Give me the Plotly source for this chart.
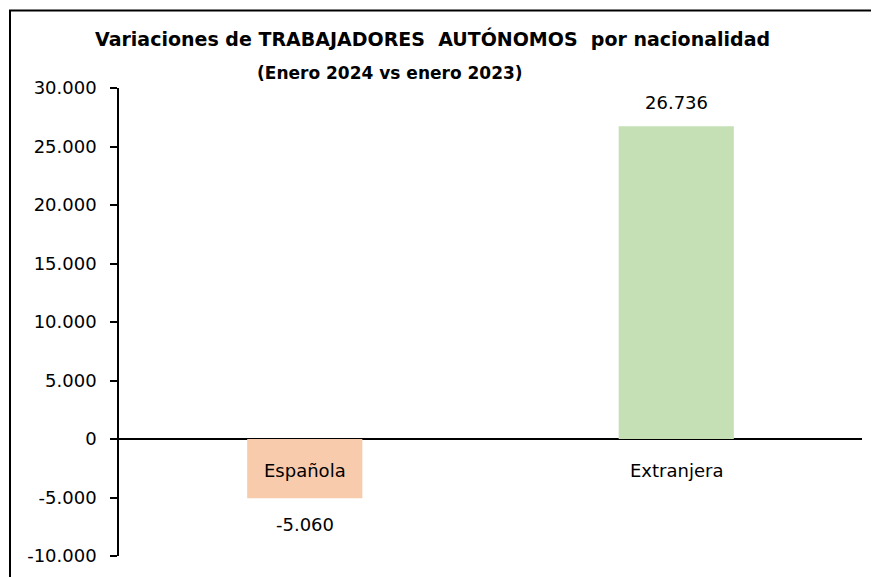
import plotly.graph_objects as go

# datos
categorias = ["Española", "Extranjera"]
variacion = [-5060, 26736]
colores = ["#F8CBAD", "#C5E0B4"]
tick_vals = [-10000, -5000, 0, 5000, 10000, 15000, 20000, 25000, 30000]
tick_text = ["-10.000", "-5.000", "0", "5.000", "10.000", "15.000", "20.000", "25.000", "30.000"]

titulo = "Variaciones de TRABAJADORES\u00a0 AUTÓNOMOS\u00a0 por nacionalidad"
subtitulo = "(Enero 2024 vs enero 2023)"

FONT = "DejaVu Sans"


def fmt_es(v):
    return f"{v:,}".replace(",", ".")


fig = go.Figure(go.Bar(
    x=categorias,
    y=variacion,
    marker=dict(color=colores, line=dict(width=0)),
    width=0.31,
    hoverinfo="skip",
))

# etiquetas de valor
for cat, v in zip(categorias, variacion):
    fig.add_annotation(
        x=cat, y=v, text=fmt_es(v), showarrow=False,
        yanchor="bottom" if v > 0 else "top",
        yshift=11 if v > 0 else -14,
        font=dict(family=FONT, size=18, color="#000000"),
    )
    # nombre de categoria justo debajo del eje
    fig.add_annotation(
        x=cat, y=0, text=cat, showarrow=False, yanchor="middle", yshift=-31,
        font=dict(family=FONT, size=18, color="#000000"),
    )

# titulo y subtitulo
fig.add_annotation(xref="paper", yref="paper", x=0.4226, y=1.1068, text=f"<b>{titulo}</b>",
                   showarrow=False, xanchor="center", yanchor="middle",
                   font=dict(family=FONT, size=19, color="#000000"))
fig.add_annotation(xref="paper", yref="paper", x=0.3647, y=1.032, text=f"<b>{subtitulo}</b>",
                   showarrow=False, xanchor="center", yanchor="middle",
                   font=dict(family=FONT, size=17, color="#000000"))

# marco del grafico (solo se ven arriba e izquierda)
fig.add_shape(type="rect", xref="paper", yref="paper",
              x0=-0.1467, x1=1.2, y0=-0.2, y1=1.1656,
              line=dict(color="#000000", width=2), fillcolor="rgba(0,0,0,0)", layer="above")

fig.update_layout(
    width=871, height=569,
    margin=dict(l=111, r=17, t=80, b=21),
    paper_bgcolor="white", plot_bgcolor="white",
    showlegend=False,
    bargap=0.69,
    font=dict(family=FONT, size=18, color="#000000"),
    xaxis=dict(showticklabels=False, showline=False, showgrid=False, zeroline=False, ticks=""),
    yaxis=dict(range=[-10000, 30000], tickvals=tick_vals, ticktext=tick_text,
               showgrid=False, showline=True, linecolor="#000000", linewidth=1.5,
               ticks="outside", ticklen=7, tickwidth=1.5, tickcolor="#000000",
               ticklabelstandoff=10,
               zeroline=True, zerolinecolor="#000000", zerolinewidth=2,
               tickfont=dict(family=FONT, size=18, color="#000000")),
)

fig.write_html("out.html")
